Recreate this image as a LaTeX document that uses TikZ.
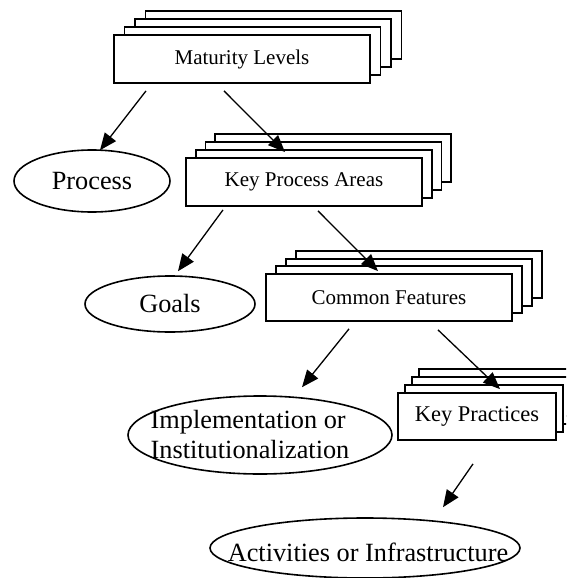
\documentclass[tikz,border=0pt]{standalone}
\usepackage{fontspec}
\setmainfont{Liberation Serif}
\usetikzlibrary{arrows.meta,calc,shapes.geometric}
\tikzset{
  card/.style={draw, line width=1.8pt, fill=white, inner sep=0pt},
  cardtext/.style={font=\fontsize{21}{24}\selectfont},
  ell/.style={draw, ellipse, line width=1.6pt, inner sep=0pt},
  elltext/.style={font=\fontsize{26.3}{30}\selectfont, align=center, inner sep=0pt},
  arr/.style={line width=1.3pt, -{Triangle[length=17pt,width=14pt]}}
}
\begin{document}
\begin{tikzpicture}[x=1pt,y=-1pt]
\useasboundingbox (0,0) rectangle (566,578);
\clip (0,0) rectangle (566,578);
% Maturity Levels stack
\foreach \i in {3,2,1}{
  \node[card, minimum width=256pt, minimum height=48pt] (ml\i) at (242+10.5*\i,59-8*\i) {};
}
\node[card, cardtext, minimum width=256pt, minimum height=48pt] (ml) at (242,59) {Maturity Levels};
% Key Process Areas stack
\foreach \i in {3,2,1}{
  \node[card, minimum width=236pt, minimum height=48pt] (kpa\i) at (304+9.7*\i,182-8*\i) {};
}
\node[card, cardtext, minimum width=236pt, minimum height=48pt] (kpa) at (304,182) {Key Process Areas};
% Common Features stack
\foreach \i in {3,2,1}{
  \node[card, minimum width=246pt, minimum height=47pt] (cf\i) at (389+10*\i,297.5-7.7*\i) {};
}
\node[card, cardtext, minimum width=246pt, minimum height=47pt] (cf) at (389,297.5) {Common Features};
% Key Practices stack
\foreach \i in {3,2,1}{
  \node[card, minimum width=158pt, minimum height=47pt] (kp\i) at (477+7*\i,416.5-8*\i) {};
}
\node[card, font=\fontsize{22.5}{26}\selectfont, minimum width=158pt, minimum height=47pt] (kp) at (477,416.5) {Key Practices};
% Ellipses
\node[ell, minimum width=156pt, minimum height=62pt] (proc) at (92,181) {};
\node[elltext] at (proc) {Process};
\node[ell, minimum width=170pt, minimum height=56pt] (goals) at (170,304) {};
\node[elltext] at (goals) {Goals};
\node[ell, minimum width=264pt, minimum height=78pt] (impl) at (260,435) {};
\node[elltext, align=left] at (250,434) {Implementation or\\Institutionalization};
\node[ell, minimum width=310pt, minimum height=60pt] (act) at (365,548) {};
\node[elltext] at (368,552) {Activities or Infrastructure};
% Arrows
\draw[arr] ($(ml.south)+(-96,7)$) -- ($(proc.north)+(8,1)$);
\draw[arr] ($(ml.south)+(-18,7)$) -- ($(kpa.north)+(-19,-5)$);
\draw[arr] ($(kpa.south)+(-81,3)$) -- ($(goals.north)+(8,-4)$);
\draw[arr] ($(kpa.south)+(14,4)$) -- ($(cf.north)+(-11,-2)$);
\draw[arr] ($(cf.south)+(-40,7)$) -- ($(impl.north)+(42,-8)$);
\draw[arr] ($(cf.south)+(49,8)$) -- ($(kp.north)+(23,-3)$);
\draw[arr] ($(kp.south)+(-4,23)$) -- ($(act.north)+(78,-10)$);
\end{tikzpicture}
\end{document}
